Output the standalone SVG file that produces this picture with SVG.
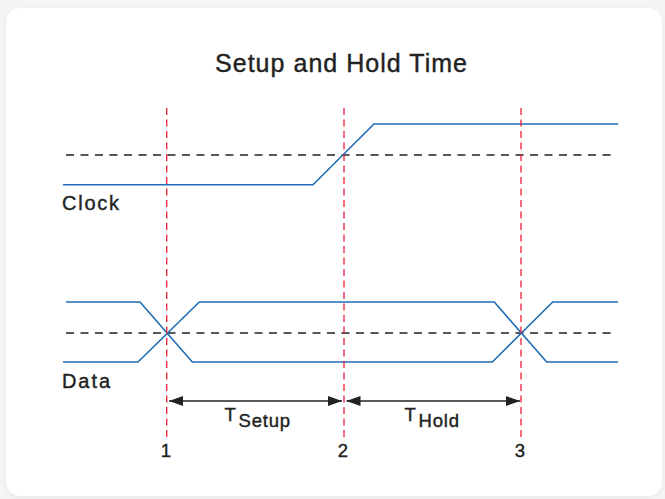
<svg xmlns="http://www.w3.org/2000/svg" width="665" height="499" viewBox="0 0 665 499">
  <style>
    .sig { fill: none; stroke: #1f6db5; stroke-width: 1.6; stroke-linejoin: miter; }
    .ref { fill: none; stroke: #222; stroke-width: 1.3; stroke-dasharray: 8 6.5; }
    .mark { fill: none; stroke: #ee1c3a; stroke-width: 1.3; stroke-dasharray: 7 4.5; }
    .dim { fill: none; stroke: #222; stroke-width: 1.3; }
    text { font-family: "Liberation Sans", Arial, Helvetica, sans-serif; fill: #222; stroke: #222; stroke-width: 0.4px; }
    .title { font-size: 25px; }
    .lbl { font-size: 20px; }
    .num { font-size: 18.5px; text-anchor: middle; }
    .t { font-size: 18.5px; }
  </style>
  <defs>
    <marker id="arrow" viewBox="0 0 14 10" refX="14" refY="5" markerWidth="14" markerHeight="10" markerUnits="userSpaceOnUse" orient="auto-start-reverse">
      <path d="M0,0 L14,5 L0,10 z" fill="#222"/>
    </marker>
    <filter id="soft" x="-5%" y="-5%" width="110%" height="110%">
      <feGaussianBlur stdDeviation="2.5"/>
    </filter>
  </defs>

  <!-- page and card -->
  <rect x="0" y="0" width="665" height="499" fill="#f4f4f4"/>
  <rect x="6" y="9" width="656" height="488" rx="14" fill="#000" opacity="0.05" filter="url(#soft)"/>
  <rect x="6" y="8" width="656" height="488" rx="14" fill="#ffffff"/>

  <text id="title" class="title" x="215" y="72" textLength="252" lengthAdjust="spacing">Setup and Hold Time</text>

  <!-- threshold reference lines -->
  <g id="thresholds">
    <line class="ref" x1="66" y1="155" x2="612" y2="155"/>
    <line class="ref" x1="66" y1="333" x2="612" y2="333"/>
  </g>

  <!-- clock waveform -->
  <g id="clock">
    <polyline class="sig" points="63,184.7 313,184.7 374,124 618,124"/>
    <text class="lbl" x="62" y="210" textLength="57" lengthAdjust="spacing">Clock</text>
  </g>

  <!-- data waveform (both possible levels) -->
  <g id="data">
    <polyline class="sig" points="66,302 140,302 192.3,362 492.3,362 552.7,302 618,302"/>
    <polyline class="sig" points="63,362 138,362 199.3,302 494.3,302 546.7,362 618,362"/>
    <text class="lbl" x="62" y="388" textLength="48" lengthAdjust="spacing">Data</text>
  </g>

  <!-- time markers -->
  <g id="markers">
    <line class="mark" x1="166.7" y1="108" x2="166.7" y2="440"/>
    <line class="mark" x1="344" y1="108" x2="344" y2="440"/>
    <line class="mark" x1="521" y1="108" x2="521" y2="440"/>
    <text class="num" x="166" y="457">1</text>
    <text class="num" x="343" y="457">2</text>
    <text class="num" x="520" y="457">3</text>
  </g>

  <!-- interval dimensions -->
  <g id="connectors">
    <line class="dim" x1="169" y1="401" x2="342" y2="401" marker-start="url(#arrow)" marker-end="url(#arrow)"/>
    <line class="dim" x1="346.5" y1="401" x2="520" y2="401" marker-start="url(#arrow)" marker-end="url(#arrow)"/>
  </g>

  <g id="t-setup">
    <text class="t" x="224.5" y="421">T</text>
    <text class="t" x="238.5" y="427" textLength="51.5" lengthAdjust="spacing">Setup</text>
  </g>
  <g id="t-hold">
    <text class="t" x="404.5" y="421">T</text>
    <text class="t" x="418.5" y="427" textLength="40.5" lengthAdjust="spacing">Hold</text>
  </g>
</svg>
